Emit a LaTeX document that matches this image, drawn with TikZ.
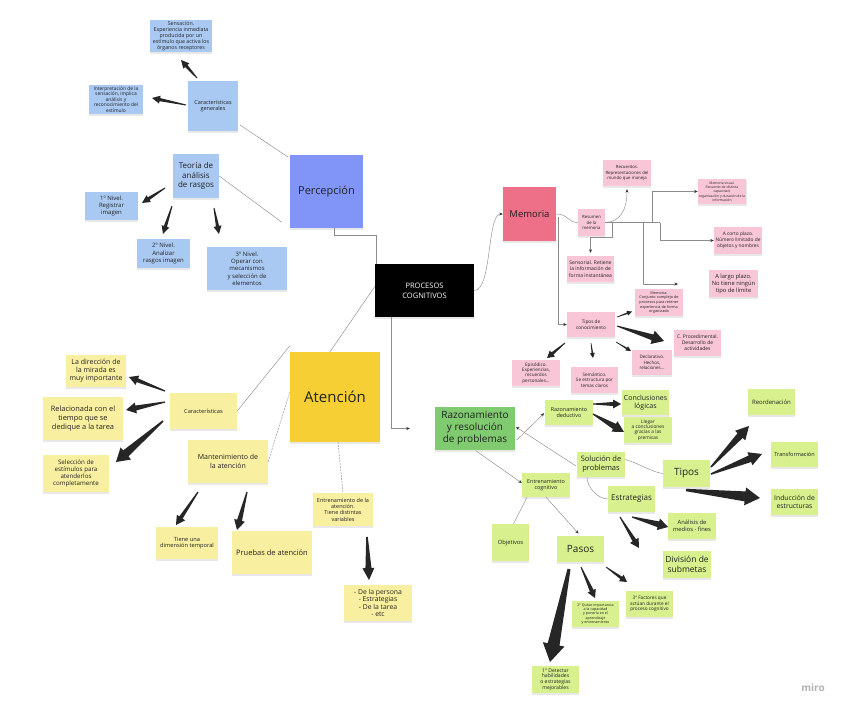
\documentclass[tikz,border=0pt]{standalone}
\usepackage{fontspec}
\setmainfont{Open Sans}
\usetikzlibrary{calc,arrows.meta,shadows}
\definecolor{nblue}{HTML}{A9C9F2}
\definecolor{cperc}{HTML}{8095F7}
\definecolor{npink}{HTML}{F8C6D6}
\definecolor{cmemo}{HTML}{EE6F88}
\definecolor{nyellow}{HTML}{F9EFA0}
\definecolor{caten}{HTML}{F5CF33}
\definecolor{ngreen}{HTML}{D8F08E}
\definecolor{crazon}{HTML}{80CB70}
\definecolor{ink}{HTML}{222222}
\newcommand\fz[2]{\fontsize{#1}{#2}\selectfont}
% tapered arrow: start, end, tail half, neck half, head half, head length
\newcommand\tarr[6]{%
  \path ($(#2)!#6pt!(#1)$) coordinate (tA);
  \fill[arrowfill] ($(#1)!#3pt!90:(#2)$) -- ($(tA)!#4pt!90:(#2)$) -- ($(tA)!#5pt!90:(#2)$) -- (#2)
    -- ($(tA)!#5pt!-90:(#2)$) -- ($(tA)!#4pt!-90:(#2)$) -- ($(#1)!#3pt!-90:(#2)$) -- cycle;}
\begin{document}
\begin{tikzpicture}[x=1pt,y=-1pt,
  note/.style={align=center, inner sep=1pt, text=ink,
    drop shadow={shadow xshift=0.4pt, shadow yshift=-1.6pt, opacity=0.18}},
  bnote/.style={note, fill=nblue},
  pnote/.style={note, fill=npink},
  ynote/.style={note, fill=nyellow},
  gnote/.style={note, fill=ngreen},
  conn/.style={draw=black!45, line width=0.45pt},
  connarr/.style={conn, -{Stealth[length=3.5pt,width=3pt,color=black!80]}},
  dconn/.style={conn, dash pattern=on 2pt off 1pt},
  arrowfill/.style={fill=black!85}]
\useasboundingbox (0,0) rectangle (848,712);
\fill[white] (0,0) rectangle (848,712);

% ---------------- Percepcion ----------------
\node[bnote, minimum width=62, minimum height=32, font=\fz{5.3}{5.9}] (sens) at (181,36)
  {Sensación.\\Experiencia inmediata\\producida por un\\estímulo que activa los\\órganos receptores};
\node[bnote, minimum width=54, minimum height=29, font=\fz{4.9}{5.4}] (interp) at (116,99.5)
  {Interpretación de la\\sensación, implica\\análisis y\\reconocimiento del\\estímulo};
\node[bnote, minimum width=50, minimum height=50, font=\fz{5.5}{6.6}] (carg) at (213,106)
  {Características\\generales};
\node[bnote, minimum width=46, minimum height=44, font=\fz{8}{9.2}] (teoria) at (196,176)
  {Teoría de\\análisis\\de rasgos};
\node[bnote, minimum width=53, minimum height=28, font=\fz{6}{7.2}] (niv1) at (111.5,206)
  {1º Nivel.\\Registrar\\imagen};
\node[bnote, minimum width=53, minimum height=29, font=\fz{6}{7.2}] (niv2) at (163.5,253.5)
  {2º Nivel.\\Analizar\\rasgos imagen};
\node[bnote, minimum width=80, minimum height=43, font=\fz{6}{7.3}] (niv3) at (247,268.5)
  {3º Nivel.\\Operar con\\mecanismos\\y selección de\\elementos};
\node[note, fill=cperc, minimum width=73, minimum height=73, font=\fz{11}{13}] (perc) at (326.5,191.5)
  {Percepción};

% ---------------- Centre ----------------
\node[note, fill=black, text=white, minimum width=99, minimum height=53, font=\fz{7.5}{10}] (proc) at (424.5,290.5)
  {PROCESOS\\COGNITIVOS};

% ---------------- Memoria ----------------
\node[note, fill=cmemo, minimum width=53, minimum height=54, font=\fz{9.5}{11}] (memoria) at (529.5,214) {Memoria};
\node[pnote, minimum width=27, minimum height=27, font=\fz{4.3}{5.5}] (resumen) at (591.5,222.5) {Resumen\\de la\\memoria};
\node[pnote, minimum width=48, minimum height=26, font=\fz{4.3}{5.5}] (recuerdos) at (627,173)
  {Recuerdos.\\Representaciones del\\mundo que maneja};
\node[pnote, minimum width=47, minimum height=26, font=\fz{5}{6.2}] (sensorial) at (590.5,269)
  {Sensorial. Retiene\\la información de\\forma instantánea};
\node[pnote, minimum width=48, minimum height=25, font=\fz{3.4}{4.3}] (mvisual) at (722,191.5)
  {Memoria visual.\\Recuerdo de distinta\\capacidad,\\organización y duración de la\\información};
\node[pnote, minimum width=48, minimum height=27, font=\fz{4.8}{6}] (corto) at (738,240.5)
  {A corto plazo.\\Número limitado de\\objetos y nombres};
\node[pnote, minimum width=49, minimum height=27, font=\fz{5.8}{7}] (largo) at (733.5,283.5)
  {A largo plazo.\\No tiene ningún\\tipo de límite};
\node[pnote, minimum width=48, minimum height=27, font=\fz{3.8}{4.6}] (mconj) at (659,302.5)
  {Memoria.\\Conjunto complejo de\\procesos para retener\\experiencia de forma\\organizada};
\node[pnote, minimum width=48, minimum height=25, font=\fz{4.7}{5.6}] (tiposc) at (591,324.5)
  {Tipos de\\conocimiento};
\node[pnote, minimum width=47, minimum height=26, font=\fz{5}{6}] (cproc) at (697.5,343)
  {C. Procedimental.\\Desarrollo de\\actividades};
\node[pnote, minimum width=40, minimum height=25, font=\fz{4.5}{5.4}] (declar) at (652,362.5)
  {Declarativo.\\Hechos,\\relaciones...};
\node[pnote, minimum width=47, minimum height=26, font=\fz{4.6}{5.6}] (semant) at (594.5,380)
  {Semántico.\\Se estructura por\\temas claros};
\node[pnote, minimum width=48, minimum height=26, font=\fz{4.6}{5.4}] (episod) at (536,373)
  {Episódico.\\Experiencias,\\recuerdos\\personales...};

% ---------------- Atencion ----------------
\node[note, fill=caten, minimum width=90, minimum height=90, font=\fz{15}{17}] (aten) at (335,397) {Atención};
\node[ynote, minimum width=67, minimum height=36, font=\fz{5.7}{6.5}] (carac) at (203.5,411) {Características};
\node[ynote, minimum width=60, minimum height=32, font=\fz{7}{8}] (mirada) at (96,371)
  {La dirección de\\la mirada es\\muy importante};
\node[ynote, minimum width=80, minimum height=43, font=\fz{7.4}{9.2}] (relac) at (83,418.5)
  {Relacionada con el\\tiempo que se\\dedique a la tarea};
\node[ynote, minimum width=66, minimum height=37, font=\fz{6.2}{6.8}] (selec) at (76,473.5)
  {Selección de\\estímulos para\\atenderlos\\completamente};
\node[ynote, minimum width=80, minimum height=43, font=\fz{7}{9}] (mant) at (228,461.5)
  {Mantenimiento de\\la atención};
\node[ynote, minimum width=62, minimum height=32, font=\fz{5.7}{6.6}] (tiene) at (187,543)
  {Tiene una\\dimensión temporal};
\node[ynote, minimum width=80, minimum height=43, font=\fz{7.5}{9}] (pruebas) at (272,552.5)
  {Pruebas de atención};
\node[ynote, minimum width=60, minimum height=33, font=\fz{5.5}{6.3}] (entrena) at (343,509.5)
  {Entrenamiento de la\\atención.\\Tiene distintas\\variables};
\node[ynote, minimum width=68, minimum height=36, font=\fz{6.8}{7.5}] (persona) at (378,603)
  {- De la persona\\- Estrategias\\- De la tarea\\- etc};

% ---------------- Razonamiento ----------------
\node[note, fill=crazon, minimum width=80, minimum height=43, font=\fz{10}{12}] (razon) at (475,428.5)
  {Razonamiento\\y resolución\\de problemas};
\node[gnote, minimum width=48, minimum height=25, font=\fz{5.4}{6.4}] (rdeduc) at (569,412.5) {Razonamiento\\deductivo};
\node[gnote, minimum width=47, minimum height=25, font=\fz{7}{8.2}] (concl) at (645.5,402.5) {Conclusiones\\lógicas};
\node[gnote, minimum width=48, minimum height=26, font=\fz{4.8}{5.4}] (llegar) at (648,430)
  {Llegar\\a conclusiones\\gracias a las\\premisas};
\node[gnote, minimum width=48, minimum height=25, font=\fz{7.5}{9}] (solucion) at (601,464.5) {Solución de\\problemas};
\node[gnote, minimum width=47, minimum height=27, font=\fz{10}{12}] (tipos) at (686.5,473.5) {Tipos};
\node[gnote, minimum width=47, minimum height=26, font=\fz{8}{9.5}] (estrat) at (631.5,499) {Estrategias};
\node[gnote, minimum width=47, minimum height=26, font=\fz{6}{7}] (reord) at (771.5,402) {Reordenación};
\node[gnote, minimum width=47, minimum height=25, font=\fz{5.5}{6.5}] (transf) at (794.5,454.5) {Transformación};
\node[gnote, minimum width=47, minimum height=26, font=\fz{6.8}{8}] (induc) at (794.5,502) {Inducción de\\estructuras};
\node[gnote, minimum width=48, minimum height=26, font=\fz{5.8}{7}] (analisis) at (692,526) {Análisis de\\medios - fines};
\node[gnote, minimum width=48, minimum height=27, font=\fz{8.5}{10}] (division) at (687,564.5) {División de\\submetas};
\node[gnote, minimum width=48, minimum height=24, font=\fz{5.4}{6.4}] (entrcog) at (546,485) {Entrenamiento\\cognitivo};
\node[gnote, minimum width=37, minimum height=37, font=\fz{5.8}{6.8}] (objetivos) at (510.5,542.5) {Objetivos};
\node[gnote, minimum width=47, minimum height=26, font=\fz{10}{12}] (pasos) at (580.5,549) {Pasos};
\node[gnote, minimum width=47, minimum height=26, font=\fz{4.7}{5.6}] (f3) at (649.5,604)
  {3º Factores que\\actúan durante el\\proceso cognitivo};
\node[gnote, minimum width=47, minimum height=26, font=\fz{3.6}{4.2}] (f2) at (595.5,614)
  {2º Quitar importancia\\a la capacidad\\y ponerla en el\\aprendizaje\\y entrenamiento};
\node[gnote, minimum width=47, minimum height=27, font=\fz{5.1}{5.8}] (f1) at (555.5,679.5)
  {1º Detectar\\habilidades\\o estrategias\\mejorables};

\node[text=black!30, font=\fz{10}{12}\bfseries] (logo) at (813,688) {miro};

% ---------------- thin connectors ----------------
\draw[conn] ([xshift=2pt,yshift=6pt]carg.south east) -- ([xshift=-2pt,yshift=-2pt]perc.north west);
\draw[conn, shorten >=10pt] (teoria.east) -- (perc.south west);
\draw[conn] ([xshift=8pt]perc.south) -- ++(0,7) -| ([xshift=1.5pt]proc.north west);
\draw[conn] ([yshift=4pt]proc.west) -- ([xshift=-5pt]aten.north);
\draw[connarr] (proc.east) .. controls +(18,0) and +(-16,0) .. (memoria.west);
\draw[connarr, shorten >=25pt] ([xshift=-33pt]proc.south) |- (razon.west);

% memoria tree
\coordinate (jA) at (643,222.5);
\coordinate (jB) at (652,222.5);
\coordinate (jC) at (660,222.5);
\coordinate (jS) at (612,222.5);
\coordinate (lgend) at (678,284);
\coordinate (mv) at (558,217);
\draw[conn] (memoria.east) .. controls +(12,0) and +(-10,0) .. (resumen.west);
\draw[connarr, shorten >=3pt] (resumen.east) .. controls (620,222) and (627,210) .. (recuerdos.south);
\draw[conn] (resumen.east) -- (jC);
\draw[connarr] (jB) |- (mvisual.west);
\draw[connarr] (jC) |- (corto.west);
\draw[connarr] (jA) |- (lgend);
\draw[connarr, shorten >=3pt] (jS) -- ++(0,15) -| (sensorial.north);
\draw[connarr] (mv) |- (tiposc.west);

% atencion
\draw[conn] (carac.east) -- ([yshift=6pt]aten.north west);
\draw[dconn] (mant.east) -- ([yshift=5pt]aten.west);
\draw[dconn] ([xshift=3pt]aten.south) -- (entrena.north);

% razonamiento
\draw[connarr, shorten <=2pt, shorten >=1pt] ([yshift=-13pt]razon.east) -- (rdeduc.west);
\draw[connarr, shorten <=1pt, shorten >=1pt] ([yshift=-2pt]solucion.west) -- ([yshift=2pt]razon.east);
\draw[conn] ([yshift=5pt]solucion.east) .. controls +(12,3) and +(-10,-1) .. (tipos.west);
\draw[conn] ([xshift=-14pt]solucion.south) .. controls +(0,10) and +(-10,0) .. (estrat.west);
\draw[connarr, shorten <=1pt] (razon.south) -- ([yshift=2pt]entrcog.west);
\draw[conn] ([xshift=-19pt]entrcog.south) -- ([xshift=3pt]objetivos.north);
\draw[connarr, shorten >=3pt] (entrcog.south) -- (pasos.north);

% ---------------- tapered arrows ----------------
\coordinate (a1s) at (197,78);   \coordinate (a1e) at (181,60);
\coordinate (a2s) at (186,105);  \coordinate (a2e) at (152,98);
\coordinate (a3s) at (165,188);  \coordinate (a3e) at (142,203);
\coordinate (a4s) at (172,206);  \coordinate (a4e) at (163,234);
\coordinate (a5s) at (214,208);  \coordinate (a5e) at (219,234);
\tarr{a1s}{a1e}{0.5}{1.6}{4}{8}
\tarr{a2s}{a2e}{0.5}{1.6}{4}{8}
\tarr{a3s}{a3e}{0.5}{1.6}{4}{8}
\tarr{a4s}{a4e}{0.5}{1.6}{4}{8}
\tarr{a5s}{a5e}{0.5}{1.6}{4}{8}

\coordinate (m1s) at (617,317);  \coordinate (m1e) at (632,311.5);
\coordinate (m2s) at (617,326);  \coordinate (m2e) at (664,341);
\coordinate (m3s) at (616,342);  \coordinate (m3e) at (631,351);
\coordinate (m4s) at (591,343);  \coordinate (m4e) at (593,358);
\coordinate (m5s) at (565,343);  \coordinate (m5e) at (547,358);
\tarr{m1s}{m1e}{0.3}{0.8}{2.5}{5}
\tarr{m2s}{m2e}{0.5}{3}{7}{12}
\tarr{m3s}{m3e}{0.3}{0.8}{2.5}{5}
\tarr{m4s}{m4e}{0.3}{0.8}{2.5}{5}
\tarr{m5s}{m5e}{0.4}{1.5}{4}{7}

\coordinate (b1s) at (165,391);  \coordinate (b1e) at (129,377);
\coordinate (b2s) at (165,402);  \coordinate (b2e) at (126,410);
\coordinate (b3s) at (163,421);  \coordinate (b3e) at (116,462);
\coordinate (b4s) at (198,492);  \coordinate (b4e) at (176,525);
\coordinate (b5s) at (247,492);  \coordinate (b5e) at (237,530);
\coordinate (b6s) at (367,537);  \coordinate (b6e) at (369,580);
\tarr{b1s}{b1e}{0.6}{2}{5}{9}
\tarr{b2s}{b2e}{0.6}{2.5}{5.5}{10}
\tarr{b3s}{b3e}{0.8}{4}{8}{13}
\tarr{b4s}{b4e}{0.6}{2}{5}{9}
\tarr{b5s}{b5e}{0.6}{2.5}{5.5}{10}
\tarr{b6s}{b6e}{0.8}{3}{6}{12}

\coordinate (g1s) at (593,404);  \coordinate (g1e) at (621,404);
\coordinate (g2s) at (593,414);  \coordinate (g2e) at (624,432);
\coordinate (g3s) at (711,467);  \coordinate (g3e) at (749,426);
\coordinate (g4s) at (711,474);  \coordinate (g4e) at (762,454);
\coordinate (g5s) at (686,490);  \coordinate (g5e) at (760,498);
\coordinate (g6s) at (632,517);  \coordinate (g6e) at (668,527);
\coordinate (g7s) at (620,517);  \coordinate (g7e) at (639,548);
\coordinate (g8s) at (606,567);  \coordinate (g8e) at (627,582);
\coordinate (g9s) at (581,567);  \coordinate (g9e) at (595,598);
\coordinate (g10s) at (569,569); \coordinate (g10e) at (550,662);
\tarr{g1s}{g1e}{0.5}{2}{4.5}{8}
\tarr{g2s}{g2e}{0.6}{3}{6}{11}
\tarr{g3s}{g3e}{0.8}{3.5}{7}{13}
\tarr{g4s}{g4e}{0.8}{3.5}{7}{13}
\tarr{g5s}{g5e}{1.2}{5}{9}{15}
\tarr{g6s}{g6e}{0.6}{3}{6}{10}
\tarr{g7s}{g7e}{0.5}{2}{5}{9}
\tarr{g8s}{g8e}{0.4}{1.5}{4}{7}
\tarr{g9s}{g9e}{0.5}{2}{4.5}{8}
\tarr{g10s}{g10e}{1.5}{6}{11}{18}
\end{tikzpicture}
\end{document}
